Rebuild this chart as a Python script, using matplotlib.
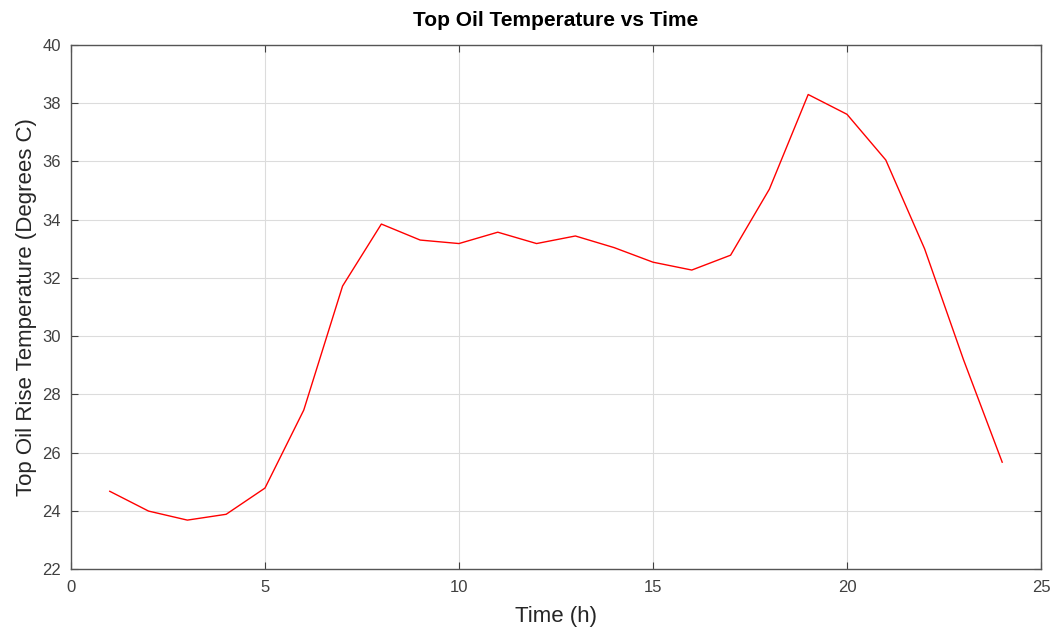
import matplotlib
matplotlib.use("Agg")
import matplotlib.pyplot as plt

# hourly top-oil rise temperature
hours = list(range(1, 25))
temps = [24.67, 23.99, 23.68, 23.88, 24.78, 27.46, 31.72, 33.85,
         33.30, 33.18, 33.57, 33.18, 33.44, 33.04, 32.54, 32.27,
         32.78, 35.05, 38.30, 37.62, 36.05, 33.00, 29.20, 25.67]

x_ticks = [0, 5, 10, 15, 20, 25]
y_ticks = list(range(22, 41, 2))

plt.rcParams["font.family"] = ["Liberation Sans", "DejaVu Sans"]

fig = plt.figure(figsize=(10.59, 6.34), dpi=100)
ax = fig.add_axes([0.067, 0.1025, 0.916, 0.8265])

ax.plot(hours, temps, color="#ff0000", linewidth=1.0)

ax.set_xlim(0, 25)
ax.set_ylim(22, 40)
ax.set_xticks(x_ticks)
ax.set_yticks(y_ticks)
ax.grid(True, color="#dcdcdc", linewidth=0.8)
ax.set_axisbelow(True)

ax.tick_params(direction="in", top=True, right=True, length=5,
               labelsize=12, colors="#404040", labelcolor="#404040")
ax.tick_params(axis="x", pad=8)
ax.tick_params(axis="y", pad=7)
for s in ax.spines.values():
    s.set_color("#555555")
    s.set_linewidth(1.0)

ax.set_title("Top Oil Temperature vs Time", fontsize=15, fontweight="bold", pad=14)
ax.set_xlabel("Time (h)", fontsize=16, color="#262626", labelpad=8)
ax.set_ylabel("Top Oil Rise Temperature (Degrees C)", fontsize=16, color="#262626", labelpad=4)

fig.savefig("out.png", dpi=100)
